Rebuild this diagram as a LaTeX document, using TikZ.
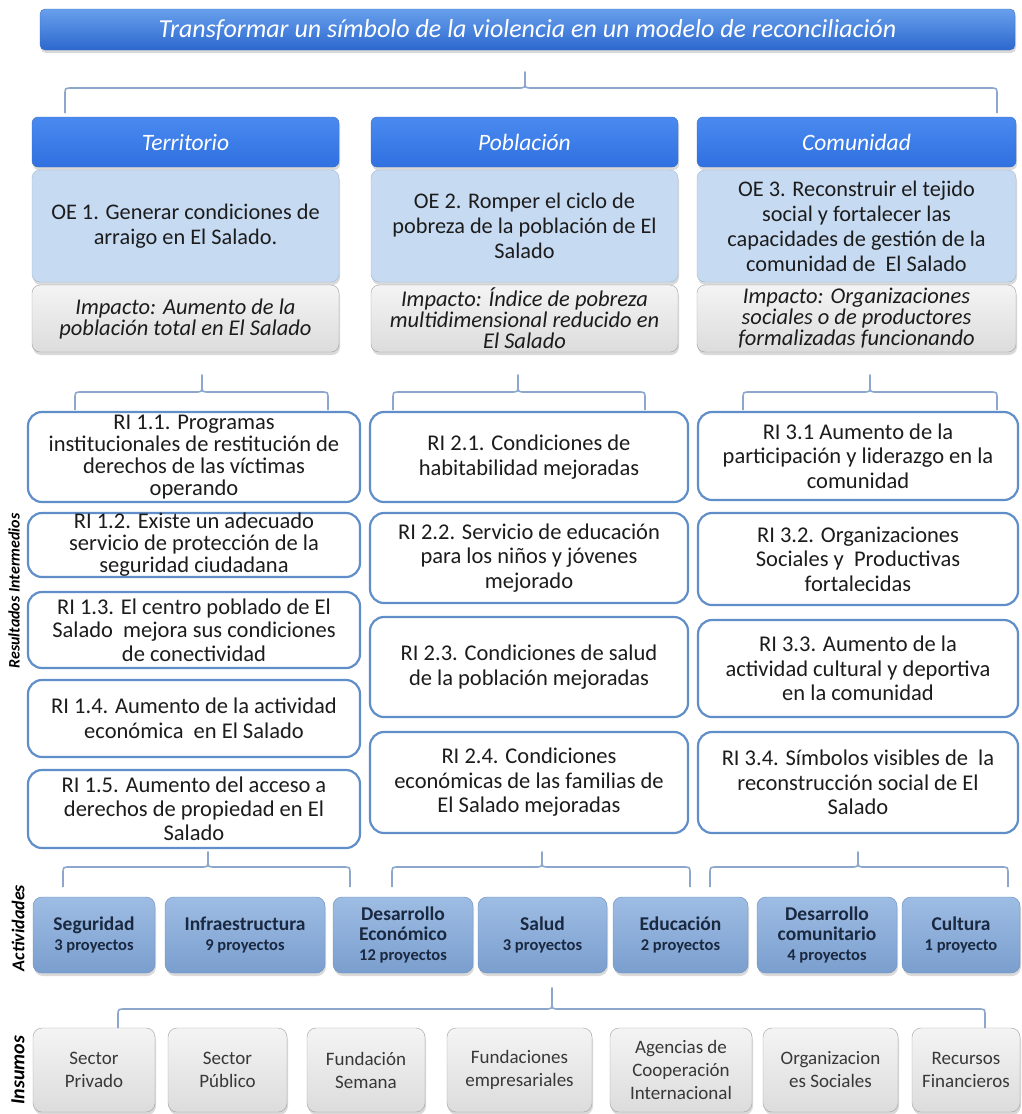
\documentclass[tikz,border=0pt]{standalone}
\usepackage{fontspec}
\setmainfont{Carlito}
\usepackage{tikz}
\usetikzlibrary{shadows}
\definecolor{ttltop}{RGB}{104,160,236}
\definecolor{ttlbot}{RGB}{44,104,206}
\definecolor{hdrtop}{RGB}{74,138,240}
\definecolor{hdrbot}{RGB}{48,112,224}
\definecolor{hdrline}{RGB}{62,112,196}
\definecolor{oefill}{RGB}{198,218,242}
\definecolor{oeline}{RGB}{160,184,216}
\definecolor{imptop}{RGB}{244,244,244}
\definecolor{impbot}{RGB}{220,220,220}
\definecolor{impline}{RGB}{160,160,160}
\definecolor{riline}{RGB}{96,142,200}
\definecolor{acttop}{RGB}{158,189,228}
\definecolor{actbot}{RGB}{122,158,206}
\definecolor{actline}{RGB}{104,138,188}
\definecolor{acttext}{RGB}{26,40,64}
\definecolor{instop}{RGB}{244,244,244}
\definecolor{insbot}{RGB}{220,220,220}
\definecolor{insline}{RGB}{158,158,158}
\definecolor{brcline}{RGB}{140,166,204}
\definecolor{mytext}{RGB}{28,28,28}
\newcommand\fsz[2]{\fontsize{#1}{#2}\selectfont}
\newcommand\proj[1]{{\fsz{16.5}{20}#1}}
\tikzset{
  shad/.style={drop shadow={shadow xshift=1pt, shadow yshift=-3pt, opacity=0.3}},
  titlebar/.style={rectangle, rounded corners=5pt, draw=hdrline, top color=ttltop, bottom color=ttlbot,
    text=white, font=\fsz{26}{30}\itshape, minimum width=975pt, minimum height=41pt, inner sep=1pt, shad},
  hdrbox/.style={rectangle, rounded corners=6pt, draw=hdrline, top color=hdrtop, bottom color=hdrbot,
    text=white, font=\fsz{23.5}{27}\itshape, minimum height=50pt, shad},
  oebox/.style={rectangle, rounded corners=8pt, draw=oeline, fill=oefill, text=mytext, align=center,
    font=\fsz{22.3}{25}, minimum height=112pt, inner sep=2pt, shad},
  impbox/.style={rectangle, rounded corners=8pt, draw=impline, top color=imptop, bottom color=impbot,
    text=mytext, align=center, font=\fsz{22.5}{21}\itshape, minimum height=67pt, inner sep=1.5pt, shad},
  ribox/.style={rectangle, rounded corners=14pt, draw=riline, line width=2.2pt, fill=white, text=mytext,
    align=center, font=\fsz{22.5}{24.5}, inner sep=2pt},
  actbox/.style={rectangle, rounded corners=9pt, draw=actline, top color=acttop, bottom color=actbot,
    text=acttext, align=center, font=\fsz{19.5}{20}\bfseries, minimum height=76pt, inner sep=2pt, shad},
  insbox/.style={rectangle, rounded corners=9pt, draw=insline, top color=instop, bottom color=insbot,
    text=black!78, align=center, font=\fsz{19}{23}, minimum height=84pt, inner sep=2pt, shad},
  brc/.style={draw=brcline, line width=1.6pt, line join=round},
  sidelbl/.style={rotate=90, text=black, inner sep=0pt}
}

\begin{document}
\begin{tikzpicture}[x=1pt, y=-1pt]
\useasboundingbox (0,0) rectangle (1022,1114);

%--- goal ---
\node[titlebar] (goal) at (527.5,29.5) {Transformar un símbolo de la violencia en un modelo de reconciliación};

%--- axes ---
\node[hdrbox, minimum width=307pt] (terr) at (185.5,142) {Territorio};
\node[hdrbox, minimum width=307pt] (pobl) at (524.5,142) {Población};
\node[hdrbox, minimum width=319pt] (comu) at (856.5,142) {Comunidad};

% specific objectives
\node[oebox, minimum width=307pt] (oe1) at (185.5,226) {OE 1. Generar condiciones de\\arraigo en El Salado.};
\node[oebox, minimum width=307pt] (oe2) at (524.5,226) {OE 2. Romper el ciclo de\\pobreza de la población de El\\Salado};
\node[oebox, minimum width=319pt] (oe3) at (856.5,226) {OE 3. Reconstruir el tejido\\social y fortalecer las\\capacidades de gestión de la\\comunidad de\ \ El Salado};

% impact
\node[impbox, minimum width=307pt] (imp1) at (185.5,318.5) {Impacto: Aumento de la\\población total en El Salado};
\node[impbox, minimum width=307pt] (imp2) at (524.5,318.5) {Impacto: Índice de pobreza\\multidimensional reducido en\\El Salado};
\node[impbox, minimum width=319pt] (imp3) at (856.5,318.5) {Impacto: Organizaciones\\sociales o de productores\\formalizadas funcionando};

%--- intermediate results ---
\node[ribox, minimum width=332pt, minimum height=90pt, font=\fsz{22.5}{22}, inner ysep=0pt] (ri11) at (194,457) {RI 1.1. Programas\\institucionales de restitución de\\derechos de las víctimas\\operando};
\node[ribox, minimum width=332pt, minimum height=64pt, font=\fsz{22.5}{22}, inner ysep=0pt] (ri12) at (194,545) {RI 1.2. Existe un adecuado\\servicio de protección de la\\seguridad ciudadana};
\node[ribox, minimum width=332pt, minimum height=76pt, font=\fsz{22.5}{23.5}, inner ysep=0pt] (ri13) at (194,630) {RI 1.3. El centro poblado de El\\Salado\ \ mejora sus condiciones\\de conectividad};
\node[ribox, minimum width=332pt, minimum height=77pt] (ri14) at (194,718.5) {RI 1.4. Aumento de la actividad\\económica\ \ en El Salado};
\node[ribox, minimum width=332pt, minimum height=78pt, font=\fsz{22.5}{24}, inner ysep=0pt] (ri15) at (194,809) {RI 1.5. Aumento del acceso a\\derechos de propiedad en El\\Salado};

\node[ribox, minimum width=318pt, minimum height=90pt] (ri21) at (529,457) {RI 2.1. Condiciones de\\habitabilidad mejoradas};
\node[ribox, minimum width=318pt, minimum height=90pt] (ri22) at (529,558) {RI 2.2. Servicio de educación\\para los niños y jóvenes\\mejorado};
\node[ribox, minimum width=318pt, minimum height=100pt] (ri23) at (529,667) {RI 2.3. Condiciones de salud\\de la población mejoradas};
\node[ribox, minimum width=318pt, minimum height=101pt] (ri24) at (529,782.5) {RI 2.4. Condiciones\\económicas de las familias de\\El Salado mejoradas};

\node[ribox, minimum width=320pt, minimum height=88pt] (ri31) at (858,456) {RI 3.1 Aumento de la\\participación y liderazgo en la\\comunidad};
\node[ribox, minimum width=320pt, minimum height=92pt] (ri32) at (858,559) {RI 3.2. Organizaciones\\Sociales y\ \ Productivas\\fortalecidas};
\node[ribox, minimum width=320pt, minimum height=97pt] (ri33) at (858,668.5) {RI 3.3. Aumento de la\\actividad cultural y deportiva\\en la comunidad};
\node[ribox, minimum width=320pt, minimum height=101pt] (ri34) at (858,782.5) {RI 3.4. Símbolos visibles de\ \ la\\reconstrucción social de El\\Salado};

%--- activities ---
\foreach \n/\x/\w/\t in {seg/94/122/{Seguridad\\\proj{3 proyectos}},
    inf/245/160/{Infraestructura\\\proj{9 proyectos}},
    dec/403/140/{Desarrollo\\Económico\\\proj{12 proyectos}},
    sal/542.5/129/{Salud\\\proj{3 proyectos}},
    edu/680.5/135/{Educación\\\proj{2 proyectos}},
    dco/827/140/{Desarrollo\\comunitario\\\proj{4 proyectos}},
    cul/961/118/{Cultura\\\proj{1 proyecto}}}
  { \node[actbox, minimum width=\w pt] (act-\n) at (\x,935) {\t}; }

%--- inputs ---
\foreach \n/\x/\w/\t in {spr/94/122/{Sector\\Privado},
    spu/227.5/119/{Sector\\Público},
    fse/366/118/{Fundación\\Semana},
    fem/519.5/145/{Fundaciones\\empresariales},
    age/681/142/{Agencias de\\Cooperación\\Internacional},
    org/830.5/135/{Organizacion\\es Sociales},
    rec/966/108/{Recursos\\Financieros}}
  { \node[insbox, minimum width=\w pt] (ins-\n) at (\x,1070) {\t}; }

% braces: left x / right x / tip x / tip y / bar y / end y
\foreach \xa/\xb/\xt/\yt/\yh/\ye in {65/997/525/72/88/113,
    75/328/202/375/392/410, 393/645/518/375/392/410, 743/997/870/375/392/410,
    63/350/208/852/867/887, 392/690/542/852/867/887, 710/1008/858/852/867/887,
    118/985/552/988/1009/1028}
  { \draw[brc] (\xa,\ye) -- (\xa,{\yh+7}) .. controls (\xa,\yh) .. ({\xa+7},\yh) -- ({\xt-7},\yh)
      .. controls (\xt,\yh) .. (\xt,{\yh-7}) -- (\xt,\yt) -- (\xt,{\yh-7})
      .. controls (\xt,\yh) .. ({\xt+7},\yh) -- ({\xb-7},\yh)
      .. controls (\xb,\yh) .. (\xb,{\yh+7}) -- (\xb,\ye); }

% side labels
\node[sidelbl, font=\fsz{16}{18}\bfseries\itshape] (lblri) at (14,591) {Resultados Intermedios};
\node[sidelbl, font=\fsz{18}{20}\bfseries\itshape] (lblact) at (18,928) {Actividades};
\node[sidelbl, font=\fsz{20}{22}\bfseries\itshape] (lblins) at (18,1070) {Insumos};
\end{tikzpicture}
\end{document}
